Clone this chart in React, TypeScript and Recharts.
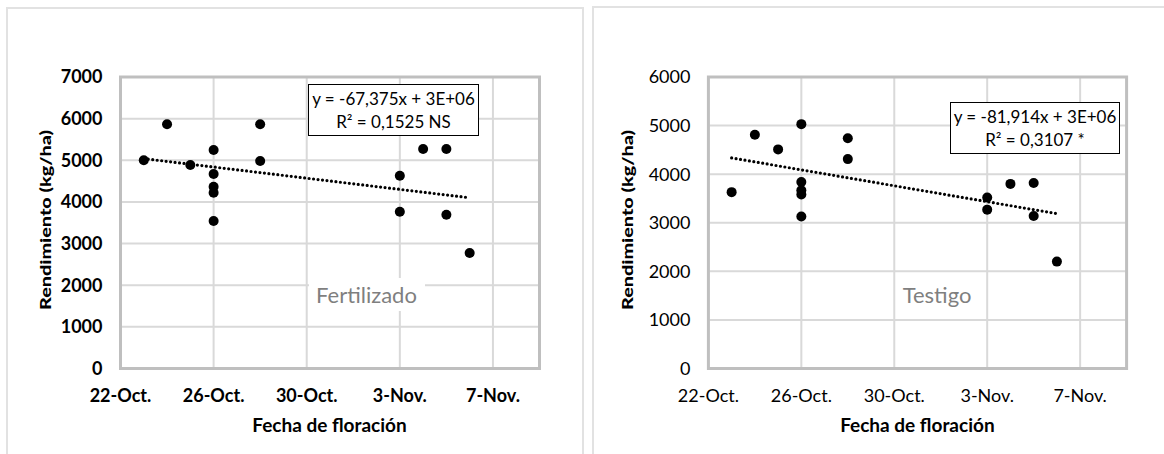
import React from "react";
import {
    ScatterChart,
    Scatter,
    XAxis,
    YAxis,
    CartesianGrid,
    ReferenceArea,
    ReferenceLine,
} from "recharts";

// día 0 = 22-Oct.
const dayTicks = [0, 4, 8, 12, 16];
const dayLabels = ["22-Oct.", "26-Oct.", "30-Oct.", "3-Nov.", "7-Nov."];

const fertDays = [1, 2, 3, 4, 4, 4, 4, 4, 6, 6, 12, 12, 13, 14, 14, 15];
const fertYield = [5000, 5865, 4887, 5247, 4671, 4366, 4222, 3542, 5865, 4983, 4630, 3766, 5271, 5271, 3694, 2774];
const fertTicks = [0, 1000, 2000, 3000, 4000, 5000, 6000, 7000];
const fertTrend = [{ x: 1, y: 5040 }, { x: 15, y: 4100 }];

const testDays = [1, 2, 3, 4, 4, 4, 4, 4, 6, 6, 12, 12, 13, 14, 14, 15];
const testYield = [3630, 4810, 4510, 5030, 3840, 3670, 3580, 3130, 4740, 4310, 3520, 3270, 3800, 3820, 3140, 2200];
const testTicks = [0, 1000, 2000, 3000, 4000, 5000, 6000];
const testTrend = [{ x: 1, y: 4335 }, { x: 15, y: 3188 }];

const FONT = "Lato, 'Open Sans', sans-serif";

const Dot = (props: any) => <circle cx={props.cx} cy={props.cy} r={5} fill="#000" />;

interface PanelProps {
    left: number;
    days: number[];
    values: number[];
    yTicks: number[];
    trend: { x: number; y: number }[];
    bold: boolean;
    marginLeft: number;
    marginRight: number;
    eq: string[];
    eqBox: { left: number; top: number; width: number; height: number };
    name: string;
    nameX: number;
    nameBg: boolean;
}

function Panel(p: PanelProps) {
    const data = p.days.map((d, i) => ({ x: d, y: p.values[i] }));
    const yMax = p.yTicks[p.yTicks.length - 1];
    const tickStyle = { fill: "#000", fontSize: 18, fontWeight: p.bold ? 700 : 400, fontFamily: FONT };

    return (
        <div style={{ position: "absolute", left: p.left, top: 0, width: 582, height: 454 }}>
            <ScatterChart
                width={582}
                height={454}
                margin={{ top: 77, right: p.marginRight, left: p.marginLeft, bottom: 45.5 }}
            >
                <CartesianGrid stroke="#d9d9d9" strokeWidth={2} />
                <XAxis
                    type="number"
                    dataKey="x"
                    domain={[0, 18]}
                    ticks={dayTicks}
                    tickFormatter={(v) => dayLabels[dayTicks.indexOf(v)]}
                    axisLine={false}
                    tickLine={false}
                    tickMargin={15}
                    height={40}
                    tick={tickStyle}
                    interval={0}
                />
                <YAxis
                    type="number"
                    dataKey="y"
                    domain={[0, yMax]}
                    ticks={p.yTicks}
                    axisLine={false}
                    tickLine={false}
                    tickMargin={12}
                    width={60}
                    tick={tickStyle}
                    interval={0}
                />
                <ReferenceArea x1={0} x2={18} y1={0} y2={yMax} fill="none" stroke="#bfbfbf" strokeWidth={3} />
                <ReferenceLine
                    segment={p.trend}
                    stroke="#000"
                    strokeWidth={3.2}
                    strokeDasharray="0 4.5"
                    strokeLinecap="round"
                />
                <Scatter data={data} shape={Dot} isAnimationActive={false} />
            </ScatterChart>

            {/* cuadro de la ecuación */}
            <div
                style={{
                    position: "absolute",
                    left: p.eqBox.left,
                    top: p.eqBox.top,
                    width: p.eqBox.width,
                    height: p.eqBox.height,
                    boxSizing: "border-box",
                    border: "1px solid #000",
                    background: "#fff",
                    fontFamily: FONT,
                    fontSize: 17,
                    lineHeight: "23px",
                    textAlign: "center",
                    paddingTop: 2,
                    color: "#000",
                }}
            >
                <div>{p.eq[0]}</div>
                <div>{p.eq[1]}</div>
            </div>

            {/* nombre del tratamiento */}
            <div
                style={{
                    position: "absolute",
                    left: p.nameX - 58,
                    top: 278,
                    width: 116,
                    height: 33,
                    lineHeight: "33px",
                    textAlign: "center",
                    fontFamily: FONT,
                    fontSize: 22,
                    color: "#7f7f7f",
                    background: p.nameBg ? "#fff" : "transparent",
                }}
            >
                {p.name}
            </div>

            {/* título eje X */}
            <div
                style={{
                    position: "absolute",
                    left: p.marginLeft + 60,
                    width: 418,
                    top: 413,
                    textAlign: "center",
                    fontFamily: FONT,
                    fontWeight: 700,
                    fontSize: 19,
                    color: "#000",
                }}
            >
                Fecha de floración
            </div>

            {/* título eje Y */}
            <svg style={{ position: "absolute", left: 30, top: 120, overflow: "visible" }} width={30} height={200}>
                <text
                    transform="translate(15,100) rotate(-90)"
                    textAnchor="middle"
                    dominantBaseline="central"
                    fontFamily={FONT}
                    fontWeight={900}
                    fontSize={15}
                    textLength={180}
                    lengthAdjust="spacingAndGlyphs"
                    fill="#000"
                >
                    Rendimiento (kg/ha)
                </text>
            </svg>
        </div>
    );
}

export default function App() {
    return (
        <div style={{ position: "absolute", left: 0, top: 0, width: 1164, height: 454, overflow: "hidden", background: "#fff" }}>
            <div style={{ position: "absolute", left: 6, top: 7, width: 578, height: 460, boxSizing: "border-box", border: "2px solid #e2e2e2" }} />
            <div style={{ position: "absolute", left: 592, top: 6, width: 600, height: 460, boxSizing: "border-box", border: "2px solid #e2e2e2" }} />
            <Panel
                left={0}
                days={fertDays}
                values={fertYield}
                yTicks={fertTicks}
                trend={fertTrend}
                bold={true}
                marginLeft={60.5}
                marginRight={42.5}
                eq={["y = -67,375x + 3E+06", "R² = 0,1525 NS"]}
                eqBox={{ left: 308, top: 84, width: 171, height: 52 }}
                name="Fertilizado"
                nameX={366.5}
                nameBg={true}
            />
            <Panel
                left={582}
                days={testDays}
                values={testYield}
                yTicks={testTicks}
                trend={testTrend}
                bold={false}
                marginLeft={66.4}
                marginRight={37.4}
                eq={["y = -81,914x + 3E+06", "R² = 0,3107 *"]}
                eqBox={{ left: 368, top: 102, width: 170, height: 52 }}
                name="Testigo"
                nameX={355}
                nameBg={false}
            />
        </div>
    );
}
